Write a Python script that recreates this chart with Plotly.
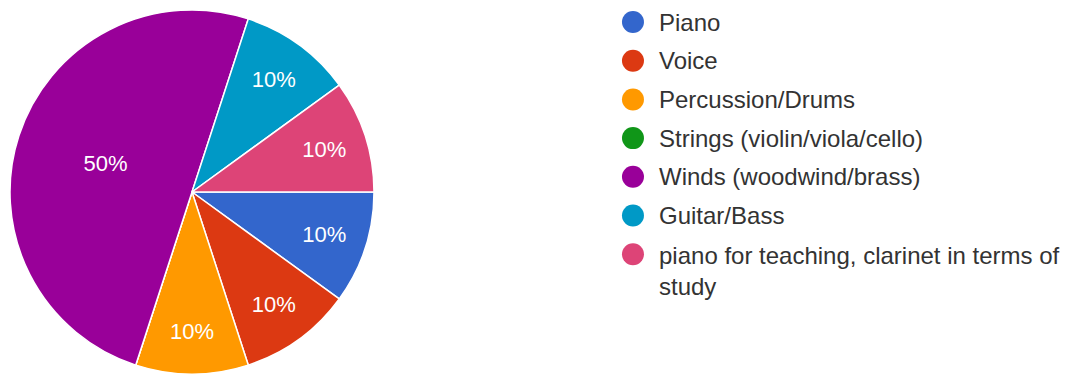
import plotly.graph_objects as go

categories = [
    "Piano",
    "Voice",
    "Percussion/Drums",
    "Strings (violin/viola/cello)",
    "Winds (woodwind/brass)",
    "Guitar/Bass",
    "piano for teaching, clarinet in terms of<br>study",
]
counts = [1, 1, 1, 0, 5, 1, 1]
colors = ["#3366cc", "#dc3912", "#ff9900", "#109618", "#990099", "#0099c6", "#dd4477"]

FONT = "Arial, Liberation Sans, Helvetica, sans-serif"
W, H = 1068, 375

fig = go.Figure()

fig.add_trace(go.Pie(
    labels=categories,
    values=counts,
    sort=False,
    direction="clockwise",
    rotation=90,
    marker=dict(colors=colors, line=dict(color="white", width=1.5)),
    textinfo="percent",
    textposition="inside",
    insidetextorientation="horizontal",
    textfont=dict(family=FONT, size=22, color="white"),
    showlegend=False,
    hoverinfo="label+percent",
    domain=dict(x=[2 / W, 366 / W], y=[1 - 366 / H, 1 - 2 / H]),
))

# custom legend: dots on a hidden axis, one per category
idx = list(range(len(categories)))
fig.add_trace(go.Scatter(
    x=[0] * len(categories),
    y=idx,
    mode="markers",
    marker=dict(color=colors, size=22, symbol="circle"),
    showlegend=False,
    hoverinfo="skip",
    xaxis="x",
    yaxis="y",
))

for i, (lab, col) in enumerate(zip(categories, colors)):
    nlines = lab.count("<br>") + 1
    fig.add_annotation(
        x=0, y=i, xref="x", yref="y",
        text=lab,
        showarrow=False,
        xanchor="left", yanchor="middle", align="left",
        xshift=24,
        yshift=-(nlines - 1) * 17,
        font=dict(family=FONT, size=24, color="#333333"),
    )

fig.update_layout(
    width=W, height=H,
    margin=dict(l=0, r=0, t=0, b=0),
    paper_bgcolor="white",
    plot_bgcolor="rgba(0,0,0,0)",
    xaxis=dict(domain=[0.57, 1.0], range=[-0.0366, 1], visible=False, fixedrange=True),
    yaxis=dict(domain=[0, 1], range=[9.328, -0.362], visible=False, fixedrange=True),
)

fig.write_html("out.html")
